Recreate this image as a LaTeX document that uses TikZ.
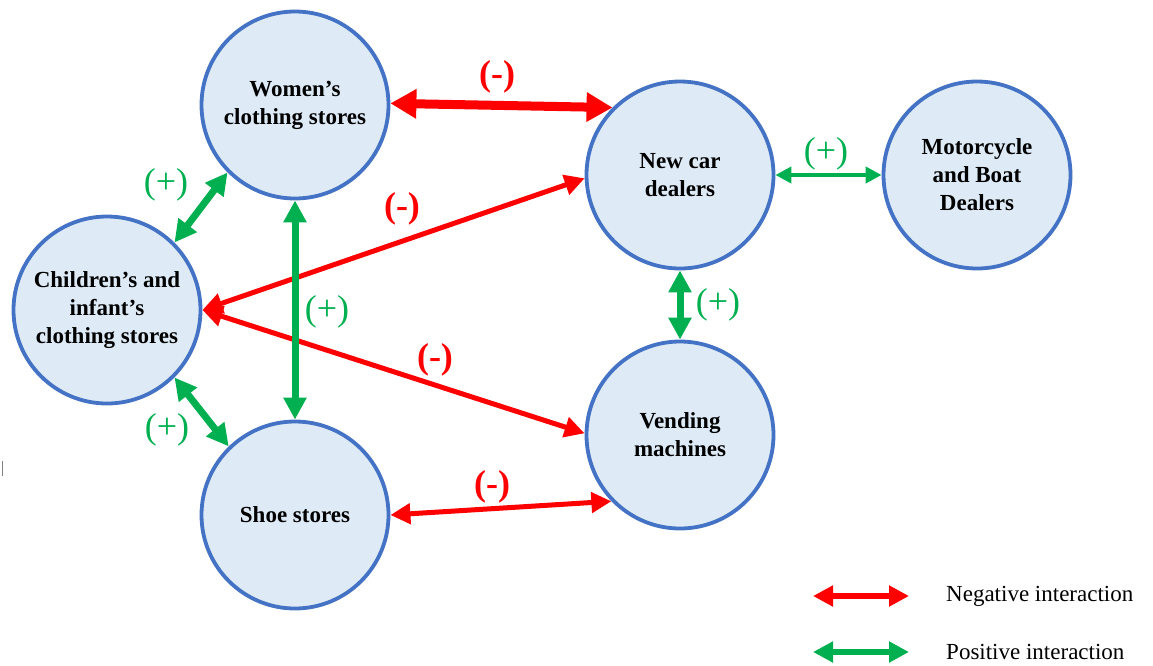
\documentclass[tikz,border=0pt]{standalone}
\usepackage{fontspec}
\setmainfont{Liberation Serif}
\usetikzlibrary{arrows.meta}
\definecolor{cfill}{HTML}{DEEBF7}
\definecolor{cline}{HTML}{4472C4}
\definecolor{negred}{HTML}{FF0000}
\definecolor{posgreen}{HTML}{00B050}
\tikzset{
  store/.style={circle, draw=cline, fill=cfill, line width=3.8pt, minimum size=187pt, inner sep=0pt,
    align=center, font=\bfseries\fontsize{23}{28}\selectfont},
  negarrow/.style={draw=negred, line width=5pt, {Triangle[length=20pt,width=20pt]}-{Triangle[length=20pt,width=20pt]}},
  negthick/.style={draw=negred, line width=9pt, {Triangle[length=26pt,width=28pt]}-{Triangle[length=26pt,width=28pt]}},
  posarrow/.style={draw=posgreen, line width=7pt, {Triangle[length=22pt,width=22pt]}-{Triangle[length=22pt,width=22pt]}},
  posthin/.style={draw=posgreen, line width=4pt, {Triangle[length=16pt,width=16pt]}-{Triangle[length=16pt,width=16pt]}},
  neglabel/.style={text=negred, font=\bfseries\fontsize{36}{36}\selectfont},
  poslabel/.style={text=posgreen, font=\fontsize{36}{36}\selectfont},
  legtext/.style={anchor=west, font=\fontsize{23}{28}\selectfont, inner sep=0pt}
}
\begin{document}
\begin{tikzpicture}[x=1pt,y=-1pt]
\useasboundingbox (0,0) rectangle (1153,665);
% nodes
\node[store] (wom) at (295,105) {Women’s\\clothing stores};
\node[store] (chi) at (107,310) {Children’s and\\infant’s\\clothing stores};
\node[store] (shoe) at (295,515) {Shoe stores};
\node[store] (car) at (680,175) {New car\\dealers};
\node[store] (moto) at (977,175) {Motorcycle\\and Boat\\Dealers};
\node[store] (vend) at (680,435) {Vending\\machines};
% connectors
\draw[negthick] (wom.1) -- (car.135);
\draw[negarrow] (chi.0) -- (car.182);
\draw[negarrow] (chi.0) -- (vend.179);
\draw[negarrow] (shoe.0) -- (vend.224);
\draw[posarrow] (wom.225) -- (chi.45);
\draw[posarrow] (wom.270) -- (shoe.90);
\draw[posarrow] (chi.-45) -- (shoe.134);
\draw[posthin] (car.0) -- (moto.180);
\draw[posarrow] (car.270) -- (vend.90);
% labels
\node[neglabel] (l1) at (497,77) {(-)};
\node[poslabel] (l2) at (826,154) {(+)};
\node[neglabel] (l3) at (402,209) {(-)};
\node[poslabel] (l4) at (166,185) {(+)};
\node[poslabel] (l5) at (327,312) {(+)};
\node[poslabel] (l6) at (718,305) {(+)};
\node[neglabel] (l7) at (435,360) {(-)};
\node[poslabel] (l8) at (167,430) {(+)};
\node[neglabel] (l9) at (492,487) {(-)};
% legend
\coordinate (ln1) at (813,596);
\coordinate (ln2) at (909,596);
\coordinate (lp1) at (813,652);
\coordinate (lp2) at (909,652);
\draw[draw=negred, line width=6pt, {Triangle[length=20pt,width=20pt]}-{Triangle[length=20pt,width=20pt]}] (ln1) -- (ln2);
\draw[draw=posgreen, line width=6pt, {Triangle[length=20pt,width=20pt]}-{Triangle[length=20pt,width=20pt]}] (lp1) -- (lp2);
\node[legtext] (tn) at (946,596) {Negative interaction};
\node[legtext] (tp) at (946,652) {Positive interaction};
% small mark at left edge
\draw[gray, line width=1pt] (2,461) -- (2,476);
\end{tikzpicture}
\end{document}
